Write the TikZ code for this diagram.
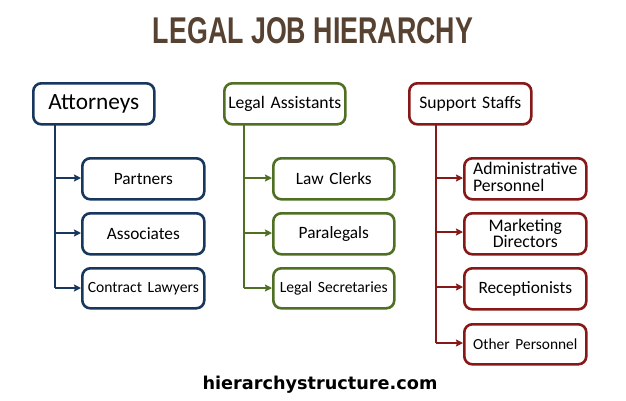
\documentclass[tikz,border=0pt]{standalone}
\usepackage{fontspec}
\setmainfont{Carlito}
\newfontfamily\titlefont{Liberation Sans}
\newfontfamily\footfont{DejaVu Sans}
\usetikzlibrary{arrows.meta}
\definecolor{cblue}{HTML}{17375E}
\definecolor{cgreen}{HTML}{4F6F23}
\definecolor{cred}{HTML}{861818}
\definecolor{ctitle}{HTML}{574232}
\tikzset{
  x=1pt, y=-1pt,
  boxst/.style={draw, line width=2.6pt, rounded corners=8pt, fill=white, inner sep=0pt, anchor=north west, align=center, font=\fontsize{17.3}{14.5}\selectfont},
  conn/.style={line width=2.3pt, -{Stealth[length=7pt,width=7pt,inset=1pt]}},
  trunk/.style={line width=2.3pt},
}
\newcommand{\bx}[7]{%
  \node[boxst, draw=#2, minimum width=#5pt, minimum height=#6pt, text width=#5pt] (#1) at (#3,#4) {#7};}
\begin{document}
\begin{tikzpicture}
\useasboundingbox (0,0) rectangle (626,400);
% title
\node[anchor=north, inner sep=0pt, text=ctitle] (title) at (313,17)
  {\resizebox{320pt}{26pt}{\titlefont\bfseries LEGAL JOB HIERARCHY}};
% Attorneys column
\bx{att}{cblue}{32}{82}{121}{41}{\fontsize{23.3}{23}\selectfont Attorneys}
\bx{par}{cblue}{81}{157}{122}{41}{Partners}
\bx{ass}{cblue}{81}{212}{122}{41}{Associates}
\bx{con}{cblue}{81}{267}{122}{40}{\fontsize{15.6}{15}\selectfont Contract Lawyers}
\coordinate (a0) at (55,123);
\coordinate (a1) at (55,178);
\coordinate (a2) at (55,233);
\coordinate (a3) at (55,288);
\draw[trunk, cblue] (a0) -- (a3);
\draw[conn, cblue] (a1) -- (a1 -| par.west);
\draw[conn, cblue] (a2) -- (a2 -| ass.west);
\draw[conn, cblue] (a3) -- (a3 -| con.west);
% Legal Assistants column
\bx{la}{cgreen}{223}{82}{121}{41}{\fontsize{17.6}{17}\selectfont Legal Assistants}
\bx{lc}{cgreen}{272}{157}{121}{41}{Law Clerks}
\bx{pl}{cgreen}{272}{212}{121}{41}{Paralegals}
\bx{ls}{cgreen}{272}{267}{121}{40}{\fontsize{15.6}{15}\selectfont Legal Secretaries}
\coordinate (b0) at (244,123);
\coordinate (b1) at (244,178);
\coordinate (b2) at (244,233);
\coordinate (b3) at (244,288);
\draw[trunk, cgreen] (b0) -- (b3);
\draw[conn, cgreen] (b1) -- (b1 -| lc.west);
\draw[conn, cgreen] (b2) -- (b2 -| pl.west);
\draw[conn, cgreen] (b3) -- (b3 -| ls.west);
% Support Staffs column
\bx{ss}{cred}{408}{82}{122}{41}{\fontsize{17.6}{17}\selectfont Support Staffs}
\bx{ad}{cred}{463}{157}{122}{41}{\fontsize{17.7}{14.5}\selectfont\begin{tabular}{@{}l@{}}Administrative\\Personnel\end{tabular}}
\bx{md}{cred}{463}{212}{122}{41}{\fontsize{17.7}{14.5}\selectfont Marketing\\Directors}
\bx{rc}{cred}{463}{267}{122}{41}{Receptionists}
\bx{op}{cred}{463}{323}{122}{40}{\fontsize{15.4}{15}\selectfont Other Personnel}
\coordinate (c0) at (436,123);
\coordinate (c1) at (436,178);
\coordinate (c2) at (436,232);
\coordinate (c3) at (436,287);
\coordinate (c4) at (436,343);
\draw[trunk, cred] (c0) -- (c4);
\draw[conn, cred] (c1) -- (c1 -| ad.west);
\draw[conn, cred] (c2) -- (c2 -| md.west);
\draw[conn, cred] (c3) -- (c3 -| rc.west);
\draw[conn, cred] (c4) -- (c4 -| op.west);
% footer
\node[anchor=base, inner sep=0pt] (foot) at (320,389)
  {\resizebox{235pt}{!}{\footfont\bfseries hierarchystructure.com}};
\end{tikzpicture}
\end{document}
